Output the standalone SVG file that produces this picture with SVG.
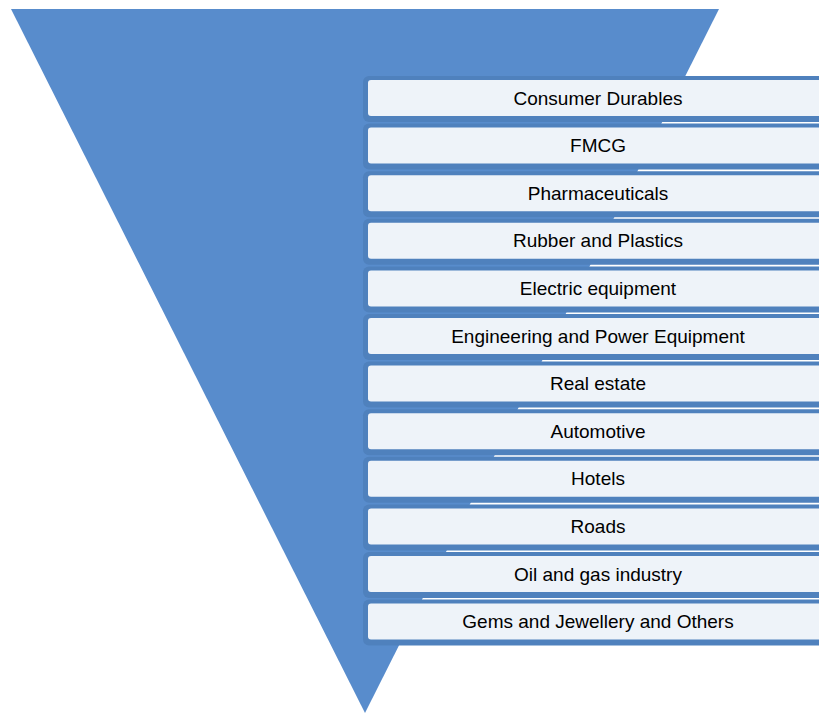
<svg xmlns="http://www.w3.org/2000/svg" width="819" height="713" viewBox="0 0 819 713">
<style>
.frame{fill:#4F81BD}
.inner{fill:#FFFFFF;fill-opacity:0.9}
.lbl{font-family:"Liberation Sans",Arial,sans-serif;font-size:19px;fill:#000;text-anchor:middle;dominant-baseline:central}
</style>
<rect width="819" height="713" fill="#FFFFFF"/>
<g id="funnel"><polygon points="11,9 719,9 365,713" fill="#588CCC"/></g>
<g id="item1"><rect class="frame" x="363" y="76" width="470" height="46" rx="6"/><rect class="inner" x="368" y="80" width="460" height="36" rx="3"/><text class="lbl" x="598" y="98">Consumer Durables</text></g>
<g id="item2"><rect class="frame" x="363" y="123.6" width="470" height="46" rx="6"/><rect class="inner" x="368" y="127.6" width="460" height="36" rx="3"/><text class="lbl" x="598" y="145.6">FMCG</text></g>
<g id="item3"><rect class="frame" x="363" y="171.2" width="470" height="46" rx="6"/><rect class="inner" x="368" y="175.2" width="460" height="36" rx="3"/><text class="lbl" x="598" y="193.2">Pharmaceuticals</text></g>
<g id="item4"><rect class="frame" x="363" y="218.8" width="470" height="46" rx="6"/><rect class="inner" x="368" y="222.8" width="460" height="36" rx="3"/><text class="lbl" x="598" y="240.8">Rubber and Plastics</text></g>
<g id="item5"><rect class="frame" x="363" y="266.4" width="470" height="46" rx="6"/><rect class="inner" x="368" y="270.4" width="460" height="36" rx="3"/><text class="lbl" x="598" y="288.4">Electric equipment</text></g>
<g id="item6"><rect class="frame" x="363" y="314" width="470" height="46" rx="6"/><rect class="inner" x="368" y="318" width="460" height="36" rx="3"/><text class="lbl" x="598" y="336">Engineering and Power Equipment</text></g>
<g id="item7"><rect class="frame" x="363" y="361.6" width="470" height="46" rx="6"/><rect class="inner" x="368" y="365.6" width="460" height="36" rx="3"/><text class="lbl" x="598" y="383.6">Real estate</text></g>
<g id="item8"><rect class="frame" x="363" y="409.2" width="470" height="46" rx="6"/><rect class="inner" x="368" y="413.2" width="460" height="36" rx="3"/><text class="lbl" x="598" y="431.2">Automotive</text></g>
<g id="item9"><rect class="frame" x="363" y="456.8" width="470" height="46" rx="6"/><rect class="inner" x="368" y="460.8" width="460" height="36" rx="3"/><text class="lbl" x="598" y="478.8">Hotels</text></g>
<g id="item10"><rect class="frame" x="363" y="504.4" width="470" height="46" rx="6"/><rect class="inner" x="368" y="508.4" width="460" height="36" rx="3"/><text class="lbl" x="598" y="526.4">Roads</text></g>
<g id="item11"><rect class="frame" x="363" y="552" width="470" height="46" rx="6"/><rect class="inner" x="368" y="556" width="460" height="36" rx="3"/><text class="lbl" x="598" y="574">Oil and gas industry</text></g>
<g id="item12"><rect class="frame" x="363" y="599.6" width="470" height="46" rx="6"/><rect class="inner" x="368" y="603.6" width="460" height="36" rx="3"/><text class="lbl" x="598" y="621.6">Gems and Jewellery and Others</text></g>
<g id="connectors"/>
</svg>
